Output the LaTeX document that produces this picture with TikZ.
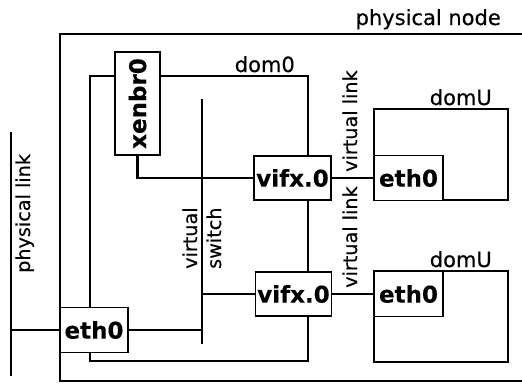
\documentclass[tikz,border=0pt]{standalone}
\usepackage{fontspec}
\setmainfont{DejaVu Sans}
\newfontfamily\regf{DejaVu Sans}[FakeBold=0.35]
\newfontfamily\boldf{DejaVu Sans Bold}[FakeBold=0.35]
\begin{document}
\begin{tikzpicture}[x=1pt,y=-1pt,
  thickline/.style={line width=2.9pt},
  midline/.style={line width=2.2pt},
  thinline/.style={line width=1.7pt},
  iface/.style={draw, line width=1.7pt, fill=white, inner sep=0pt,
    font=\boldf\fontsize{23}{27}\selectfont},
  hlabel/.style={inner sep=0pt, font=\regf\fontsize{21}{25}\selectfont},
  vlabel/.style={inner sep=0pt, rotate=90, anchor=base west,
    font=\regf\fontsize{19.2}{23}\selectfont}]
\useasboundingbox (0,0) rectangle (522,383);
% outer physical node frame
\draw[thickline] (523,34) -- (60,34) -- (60,381) -- (523,381);
\node[hlabel, anchor=base east] (physnode) at (501,25) {physical node};
% dom0
\draw[thinline] (90,76) rectangle (308,361);
\node[hlabel, anchor=base east] (dom0lbl) at (295,72) {dom0};
% domU boxes
\draw[thinline] (374,109) rectangle (508,200);
\node[hlabel, anchor=base east] (domUa) at (492,105) {domU};
\draw[thinline] (374,271) rectangle (508,362);
\node[hlabel, anchor=base east] (domUb) at (492,267) {domU};
% switch and physical link
\coordinate (swtop) at (202,99);
\coordinate (swbot) at (202,344);
\draw[thickline] (swtop) -- (swbot);
\coordinate (pltop) at (11,132);
\coordinate (plbot) at (11,376);
\draw[thickline] (pltop) -- (plbot);
% interfaces
\node[iface, minimum width=45pt, minimum height=103pt] (xenbr) at (137.5,103.5) {\rotatebox{90}{xenbr0}};
\node[iface, minimum width=77pt, minimum height=44pt] (vifa) at (292.5,178) {vifx.0};
\node[iface, minimum width=76pt, minimum height=44pt] (vifb) at (293.5,294) {vifx.0};
\node[iface, minimum width=68pt, minimum height=45pt] (eth) at (94,330) {eth0};
\node[iface, minimum width=69pt, minimum height=45pt] (etha) at (408.5,178) {eth0};
\node[iface, minimum width=69pt, minimum height=45pt] (ethb) at (408.5,294) {eth0};
% connectors
\draw[thickline] (xenbr.south) |- (vifa.west);
\draw[thickline] (vifb.west) -- (vifb.west -| swtop);
\draw[thickline] (eth.east) -- (eth.east -| swtop);
\draw[thickline] (eth.west) -- (eth.west -| pltop);
\draw[midline] (vifa.east) -- (etha.west);
\draw[midline] (vifb.east) -- (ethb.west);
% rotated labels
\node[vlabel] (pllbl) at (30,273) {physical link};
\node[vlabel] (vla) at (357,172) {virtual link};
\node[vlabel] (vlb) at (357,288) {virtual link};
\node[vlabel] (swa) at (197,269) {virtual};
\node[vlabel] (swb) at (221,269) {switch};
\end{tikzpicture}
\end{document}
